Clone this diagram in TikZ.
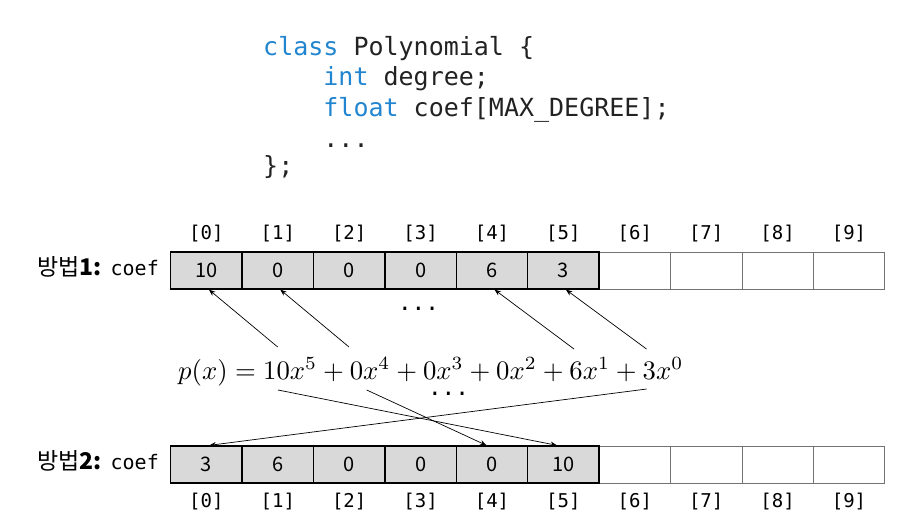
\documentclass[tikz,border=0pt]{standalone}
\usepackage{fontspec}
\usetikzlibrary{arrows.meta,calc}
\setmonofont{DejaVu Sans Mono}
\newfontfamily\krfont{Noto Sans CJK KR}
\definecolor{kwblue}{RGB}{33,133,208}
\definecolor{codeblack}{RGB}{34,34,34}
\definecolor{cellgray}{RGB}{217,217,217}
\tikzset{
  codeline/.style={anchor=base west, inner sep=0pt, font=\fontsize{25}{25}\selectfont\ttfamily, text=codeblack},
  fullcell/.style={draw=black, line width=1.3pt, fill=cellgray, minimum width=71.4pt, minimum height=37pt, inner sep=0pt, font=\krfont\fontsize{20}{20}\selectfont},
  emptycell/.style={draw=black!55, line width=0.8pt, fill=white, minimum width=71.4pt, minimum height=37pt, inner sep=0pt},
  idx/.style={inner sep=0pt, font=\ttfamily\fontsize{19}{19}\selectfont},
  rowlabel/.style={anchor=base east, inner sep=0pt},
  link/.style={line width=0.7pt, -{Stealth[length=6.5pt,width=5pt]}},
  dots/.style={inner sep=0pt, font=\ttfamily\fontsize{22.7}{22.7}\selectfont}
}
\begin{document}
\begin{tikzpicture}[x=1pt,y=-1pt]
\useasboundingbox (0,0) rectangle (906,525);
% code
\node[codeline] (c1) at (263,55) {\textcolor{kwblue}{class} Polynomial \{};
\node[codeline] (c2) at (263,85.5) {\phantom{xxxx}\textcolor{kwblue}{int} degree;};
\node[codeline] (c3) at (263,116) {\phantom{xxxx}\textcolor{kwblue}{float} coef[MAX\_DEGREE];};
\node[codeline] (c4) at (263,147) {\phantom{xxxx}...};
\node[codeline] (c5) at (263,174) {\};};
% top row
\foreach \i in {6,...,9} {
  \node[emptycell] (t\i) at ({170.7+71.4*(\i+0.5)},270.5) {};
}
\foreach \i/\v in {0/10,1/0,2/0,3/0,4/6,5/3} {
  \node[fullcell] (t\i) at ({170.7+71.4*(\i+0.5)},270.5) {\v};
}
\foreach \i in {0,...,9} {
  \node[idx] (ti\i) at ({170.7+71.4*(\i+0.5)},234) {[\i]};
}
% bottom row
\foreach \i in {6,...,9} {
  \node[emptycell] (b\i) at ({170.7+71.4*(\i+0.5)},464.5) {};
}
\foreach \i/\v in {0/3,1/6,2/0,3/0,4/0,5/10} {
  \node[fullcell] (b\i) at ({170.7+71.4*(\i+0.5)},464.5) {\v};
}
\foreach \i in {0,...,9} {
  \node[idx] (bi\i) at ({170.7+71.4*(\i+0.5)},501.5) {[\i]};
}
% labels
\node[rowlabel] (l1) at (159,275.5) {{\krfont\fontsize{23}{23}\selectfont 방법\textbf{1:}}\hspace{9pt}{\ttfamily\fontsize{20}{20}\selectfont coef}};
\node[rowlabel] (l2) at (159,469.5) {{\krfont\fontsize{23}{23}\selectfont 방법\textbf{2:}}\hspace{9pt}{\ttfamily\fontsize{20}{20}\selectfont coef}};
% formula
\node[inner sep=0pt, anchor=base west] (poly) at (178,379) {\resizebox{505pt}{!}{$p(x)=10x^5+0x^4+0x^3+0x^2+6x^1+3x^0$}};
\node[dots] (d1) at (418.5,309) {...};
\node[dots] (d2) at (448.5,394) {...};
% anchors on formula
\coordinate (u5) at (277.7,347);
\coordinate (u4) at (349,347);
\coordinate (u1) at (574,349);
\coordinate (u0) at (646.5,349);
\coordinate (w5) at (278,390);
\coordinate (w4) at (366.7,390);
\coordinate (w0) at (646.7,389);
% arrows
\draw[link] (u5) -- ($(t0.south)+(2.5,0)$);
\draw[link] (u4) -- ($(t1.south)+(2.5,0)$);
\draw[link] (u1) -- ($(t4.south)+(2.5,0)$);
\draw[link] (u0) -- ($(t5.south)+(2.5,0)$);
\draw[link] (w5) -- ($(b5.north)+(-6.5,0)$);
\draw[link] (w4) -- ($(b4.north)+(-5.5,0)$);
\draw[link] (w0) -- ($(b0.north)+(3,0)$);
\end{tikzpicture}
\end{document}
